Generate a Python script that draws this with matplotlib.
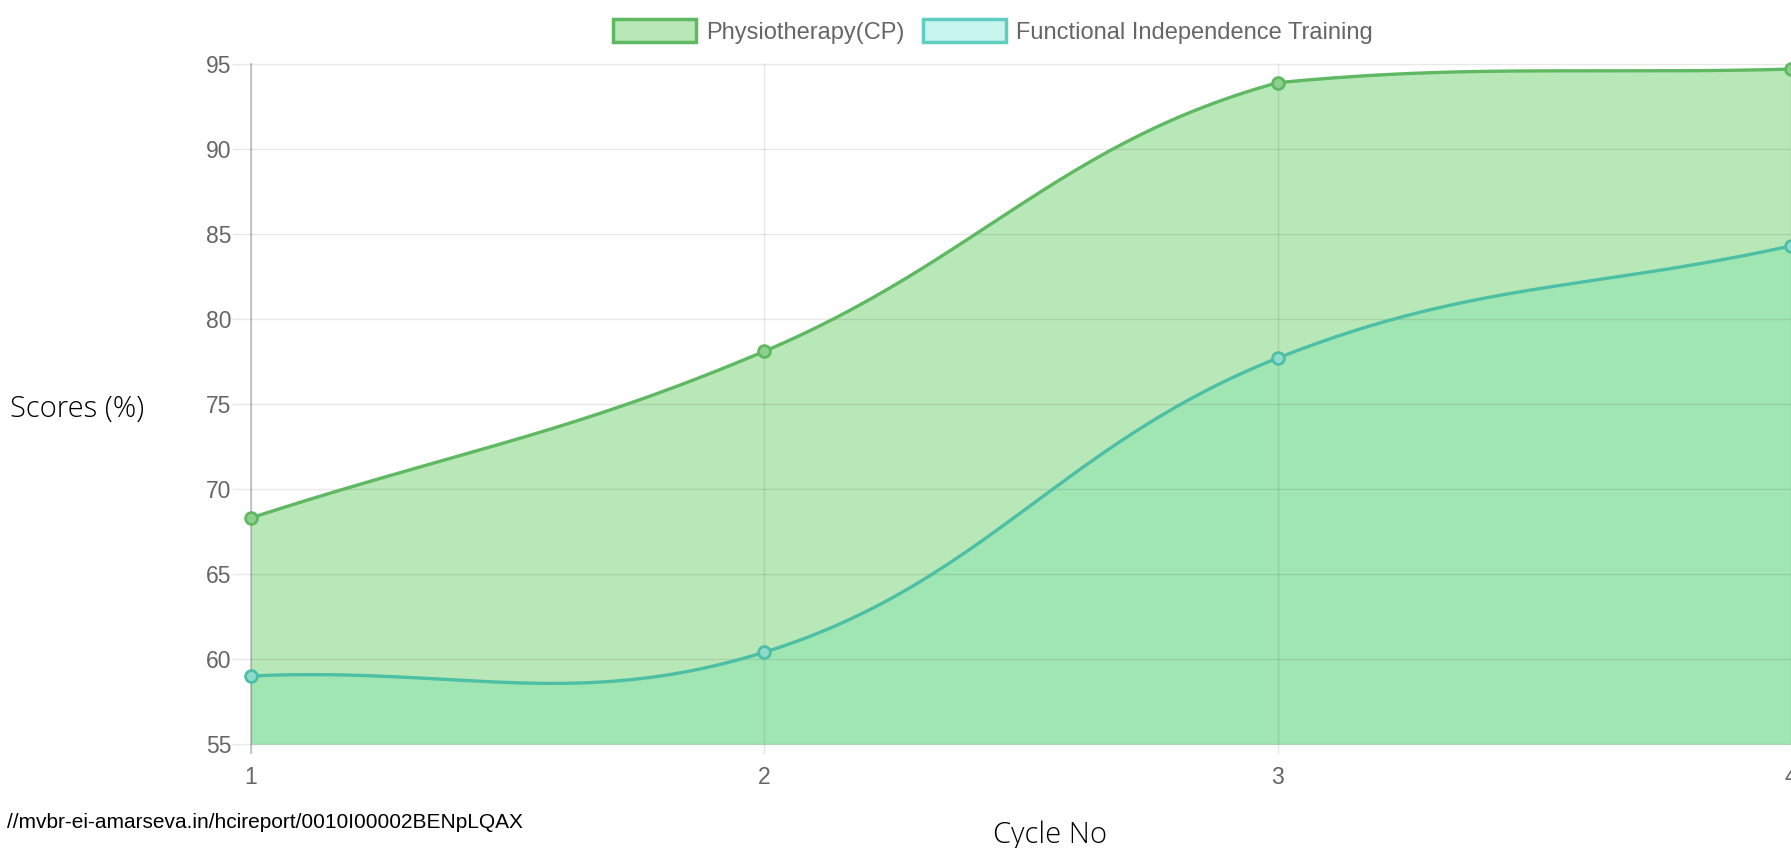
import numpy as np
import matplotlib.pyplot as plt
from matplotlib.patches import Patch

cycles = [1, 2, 3, 4]
physio = [68.3, 78.1, 93.9, 94.7]
fit = [59.0, 60.4, 77.7, 84.3]
labels = ["Physiotherapy(CP)", "Functional Independence Training"]
yticks = [55, 60, 65, 70, 75, 80, 85, 90, 95]

fig = plt.figure(figsize=(17.91, 8.48), dpi=100)
ax = fig.add_axes([251/1791, 1-744/848, 1-251/1791, (744-64)/848])
ax.set_xlim(1, 4)
ax.set_ylim(55, 95)


def smooth(xs, ys, tension=0.4):
    # chart.js style bezier, done in pixel space
    pts = ax.transData.transform(np.column_stack([xs, ys]))
    x0, y0 = ax.transData.transform((1, 55))
    x1, y1 = ax.transData.transform((4, 95))
    n = len(pts)
    cps = []
    for i in range(n):
        prev = pts[max(i-1, 0)]
        cur = pts[i]
        nxt = pts[min(i+1, n-1)]
        d01 = np.hypot(*(cur-prev))
        d12 = np.hypot(*(nxt-cur))
        tot = d01 + d12
        s01 = d01/tot if tot else 0
        s12 = d12/tot if tot else 0
        a = cur - tension*s01*(nxt-prev)
        b = cur + tension*s12*(nxt-prev)
        a = np.clip(a, [x0, y0], [x1, y1])
        b = np.clip(b, [x0, y0], [x1, y1])
        cps.append((a, b))
    out = []
    t = np.linspace(0, 1, 60)[:, None]
    for i in range(n-1):
        p0 = pts[i]
        p1 = cps[i][1]
        p2 = cps[i+1][0]
        p3 = pts[i+1]
        seg = (1-t)**3*p0 + 3*(1-t)**2*t*p1 + 3*(1-t)*t**2*p2 + t**3*p3
        out.append(seg if i == 0 else seg[1:])
    out = np.vstack(out)
    d = ax.transData.inverted().transform(out)
    return d[:, 0], d[:, 1]


px, py = smooth(cycles, physio)
fx, fy = smooth(cycles, fit)

ax.fill_between(px, py, 55, color="#b9e8b8", lw=0, zorder=1)
ax.fill_between(fx, fy, 55, color="#a0e6b3", lw=0, zorder=2)

for v in yticks:
    ax.plot([0.965, 4], [v, v], color="black", alpha=0.09, lw=1, zorder=3, clip_on=False)
for c in cycles:
    ax.plot([c, c], [54.5, 95], color="black", alpha=0.09, lw=1, zorder=3, clip_on=False)
ax.plot([1, 1], [54.5, 95], color="black", alpha=0.22, lw=1.2, zorder=3, clip_on=False)

ax.plot(px, py, color="#5fb862", lw=2.4, zorder=4, solid_capstyle="round")
ax.plot(fx, fy, color="#4cbfa5", lw=2.4, zorder=4, solid_capstyle="round")
ax.plot(cycles, physio, "o", ms=8.5, mfc="#8fd08f", mec="#5fb862", mew=2, zorder=5, clip_on=False)
ax.plot(cycles, fit, "o", ms=8.5, mfc="#8fdccd", mec="#4cbfa5", mew=2, zorder=5, clip_on=False)

for s in ax.spines.values():
    s.set_visible(False)
ax.set_xticks(cycles)
ax.set_yticks(yticks)
ax.tick_params(length=0, labelsize=16.5, labelcolor="#666666")
ax.tick_params(axis="y", pad=14)
ax.tick_params(axis="x", pad=16)
for lab in ax.get_xticklabels() + ax.get_yticklabels():
    lab.set_family("Liberation Sans")

handles = [Patch(facecolor="#b9e8b8", edgecolor="#5fb862", lw=2.5),
           Patch(facecolor="#c8f5ee", edgecolor="#5fcdbf", lw=2.5)]
fig.legend(handles, labels, loc="center", bbox_to_anchor=(993/1791, 1-31.5/848), ncol=2, frameon=False,
           prop={"family": "Liberation Sans", "size": 17}, labelcolor="#666666",
           handlelength=3.5, handleheight=1.1, handletextpad=0.42, columnspacing=0.8)

fig.text(10/1791, 1-409/848, "Scores (%)", fontsize=21, family="Open Sans", weight="light", va="center", ha="left")
fig.text(1050/1791, 1-835/848, "Cycle No", fontsize=21, family="Open Sans", weight="light", va="center", ha="center")
fig.text(523/1791, 1-822/848, "//mvbr-ei-amarseva.in/hcireport/0010I00002BENpLQAX", fontsize=15,
         family="Liberation Sans", ha="right", va="center", color="black")

fig.savefig("out.png", dpi=100)
